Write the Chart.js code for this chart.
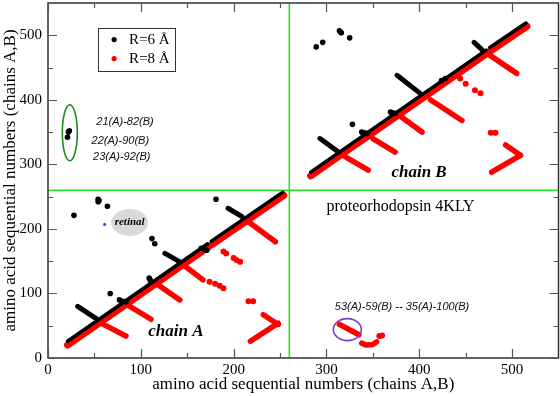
<!DOCTYPE html>
<html>
<head>
<meta charset="utf-8">
<script src="https://cdn.jsdelivr.net/npm/chart.js@4.4.0/dist/chart.umd.min.js"></script>
<style>
  html, body { margin: 0; padding: 0; background: #fff; overflow: hidden; }
  #wrap { width: 560px; height: 396px; }
</style>
</head>
<body>
<div id="wrap"><canvas id="contactMap"></canvas></div>
<script>
// axes
const axisMax = 550;
const majorTicks = [0, 100, 200, 300, 400, 500];
const minorTicks = [50, 150, 250, 350, 450];
const chainSplit = 260; // chain B starts here on the joint numbering

// diagonal bands, polylines of [x, y]
const diagBlack = [
  [[21, 26], [172, 177]],
  [[176, 181], [253, 257]],
  [[283, 288], [472, 477]],
  [[476, 481], [515, 519]]
];
const diagRed = [
  [[21, 20], [173, 172]],
  [[177, 176], [254, 252]],
  [[283, 282], [473, 472]],
  [[477, 476], [516, 514]]
];

// off-diagonal stripes
const branchRed = [
  [[57, 54], [84, 34]],
  [[86, 82], [111, 60]],
  [[118, 114], [142, 90]],
  [[146, 144], [167, 121]],
  [[214, 213], [245, 180]],
  [[232, 67], [248, 52]],
  [[218, 26], [248, 54]],
  [[320, 312], [345, 291]],
  [[350, 340], [374, 319]],
  [[380, 374], [403, 350]],
  [[412, 400], [446, 368]],
  [[473, 472], [505, 441]],
  [[493, 330], [509, 314]],
  [[478, 288], [509, 314]],
  [[314, 52], [335, 36]],
  [[338, 23], [343, 20], [350, 21], [354, 25]]
];
const branchBlack = [
  [[32, 80], [52, 61]],
  [[126, 162], [142, 149]],
  [[194, 232], [209, 219]],
  [[293, 340], [313, 319]],
  [[376, 438], [401, 410]],
  [[459, 489], [468, 477]]
];

// single contacts
const dotsRed = [
  [174, 118], [180, 115], [185, 112], [189, 108],
  [189, 165], [192, 162], [200, 155], [203, 152], [207, 149],
  [216, 88], [221, 88],
  [444, 433], [450, 425], [460, 415], [466, 410],
  [477, 349], [482, 349],
  [357, 34], [360, 35]
];
const dotsBlack = [
  [21, 342], [22, 350], [23, 352],
  [28, 221], [54, 246], [54, 242], [55, 244], [64, 235], [67, 100],
  [112, 185], [115, 177], [181, 246],
  [77, 90], [81, 88], [84, 87],
  [109, 124], [110, 121], [111, 118],
  [165, 170], [168, 169], [171, 167],
  [289, 482], [296, 489], [314, 507], [315, 505], [316, 504], [325, 496],
  [328, 362], [338, 350], [341, 349], [344, 348],
  [369, 381], [371, 380], [374, 379],
  [424, 430], [428, 433]
];
const retinal = [[61, 207]];

const toXY = arr => arr.map(p => ({ x: p[0], y: p[1] }));

const datasets = [];
const addLines = (list, color, width, order) => {
  list.forEach(seg => datasets.push({
    data: toXY(seg), showLine: true, borderColor: color, borderWidth: width,
    borderCapStyle: 'round', borderJoinStyle: 'round', pointRadius: 0, order: order
  }));
};
// chain boundaries
datasets.push({ data: toXY([[chainSplit, 0], [chainSplit, axisMax]]), showLine: true,
  borderColor: '#22e622', borderWidth: 1.6, pointRadius: 0, order: 20 });
datasets.push({ data: toXY([[0, chainSplit], [axisMax, chainSplit]]), showLine: true,
  borderColor: '#22e622', borderWidth: 1.6, pointRadius: 0, order: 20 });
addLines(diagRed, '#ff0000', 7, 6);
addLines(branchRed, '#ff0000', 5.5, 6);
addLines(diagBlack, '#000000', 3.5, 5);
addLines(branchBlack, '#000000', 5, 5);
datasets.push({ data: toXY(dotsRed), pointRadius: 3, pointBackgroundColor: '#ff0000', pointBorderWidth: 0, order: 6 });
datasets.push({ data: toXY(dotsBlack), pointRadius: 2.8, pointBackgroundColor: '#000000', pointBorderWidth: 0, order: 5 });
datasets.push({ data: toXY(retinal), pointRadius: 1.6, pointBackgroundColor: '#8a2be2', pointBorderWidth: 0, order: 4 });

const serif = '"Liberation Serif", "DejaVu Serif", serif';
const sans = '"Liberation Sans", Arial, sans-serif';

// frame, inside ticks, legend and notes
const decorations = {
  id: 'decorations',
  beforeDatasetsDraw(chart) {
    const { ctx, scales: { x, y } } = chart;
    // retinal bubble
    ctx.save();
    ctx.fillStyle = '#d9d9d9';
    ctx.beginPath();
    ctx.ellipse(x.getPixelForValue(88), y.getPixelForValue(210), 18.5, 13.5, 0, 0, Math.PI * 2);
    ctx.fill();
    ctx.fillStyle = '#000';
    ctx.font = 'italic bold 11px ' + serif;
    ctx.textAlign = 'center';
    ctx.textBaseline = 'middle';
    ctx.fillText('retinal', x.getPixelForValue(88), y.getPixelForValue(210));
    ctx.restore();
  },
  afterDatasetsDraw(chart) {
    const { ctx, chartArea: a, scales: { x, y } } = chart;
    ctx.save();
    // frame
    ctx.strokeStyle = '#333';
    ctx.lineWidth = 1.5;
    ctx.strokeRect(a.left, a.top, a.right - a.left, a.bottom - a.top);
    // ticks on all four sides, pointing in
    ctx.strokeStyle = '#555';
    ctx.lineWidth = 1.2;
    const tick = (v, len) => {
      const px = Math.round(x.getPixelForValue(v)) + 0.5;
      const py = Math.round(y.getPixelForValue(v)) + 0.5;
      ctx.beginPath();
      ctx.moveTo(px, a.bottom); ctx.lineTo(px, a.bottom - len);
      ctx.moveTo(px, a.top); ctx.lineTo(px, a.top + len);
      ctx.moveTo(a.left, py); ctx.lineTo(a.left + len, py);
      ctx.moveTo(a.right, py); ctx.lineTo(a.right - len, py);
      ctx.stroke();
    };
    majorTicks.forEach(v => tick(v, 9));
    minorTicks.forEach(v => tick(v, 5));

    // legend
    const lx = x.getPixelForValue(54), ly = y.getPixelForValue(512);
    ctx.strokeStyle = '#333';
    ctx.lineWidth = 1;
    ctx.fillStyle = '#fff';
    ctx.fillRect(lx, ly, 77, 43);
    ctx.strokeRect(Math.round(lx) + 0.5, Math.round(ly) + 0.5, 77, 43);
    ctx.font = '15px ' + serif;
    ctx.textBaseline = 'middle';
    ctx.textAlign = 'left';
    [['#000', 'R=6 Å', 12], ['#ff0000', 'R=8 Å', 31]].forEach(r => {
      ctx.fillStyle = r[0];
      ctx.beginPath();
      ctx.arc(lx + 16, ly + r[2], 2.6, 0, Math.PI * 2);
      ctx.fill();
      ctx.fillStyle = '#000';
      ctx.fillText(r[1], lx + 31, ly + r[2] + 1);
    });

    // highlighted contacts
    ctx.lineWidth = 1.6;
    ctx.strokeStyle = '#1e8c1e';
    ctx.beginPath();
    ctx.ellipse(x.getPixelForValue(23.5), y.getPixelForValue(349), 7.5, 28, 0, 0, Math.PI * 2);
    ctx.stroke();
    ctx.strokeStyle = '#7a3fd0';
    ctx.beginPath();
    ctx.ellipse(x.getPixelForValue(322.5), y.getPixelForValue(44), 14, 11, 0, 0, Math.PI * 2);
    ctx.stroke();

    ctx.fillStyle = '#111';
    ctx.font = 'italic 11px ' + sans;
    [['21(A)-82(B)', 52, 365], ['22(A)-90(B)', 47, 336], ['23(A)-92(B)', 48.5, 311],
     ['53(A)-59(B) -- 35(A)-100(B)', 309, 79]].forEach(t => {
      ctx.fillText(t[0], x.getPixelForValue(t[1]), y.getPixelForValue(t[2]));
    });

    ctx.fillStyle = '#000';
    ctx.font = 'italic bold 17px ' + serif;
    ctx.fillText('chain A', x.getPixelForValue(108), y.getPixelForValue(41));
    ctx.fillText('chain B', x.getPixelForValue(370), y.getPixelForValue(287.5));
    ctx.font = '16px ' + serif;
    ctx.fillText('proteorhodopsin 4KLY', x.getPixelForValue(300), y.getPixelForValue(234));
    ctx.restore();
  }
};

const axisTitle = 'amino acid sequential numbers (chains A,B)';

const noPad = s => { s.paddingTop = 0; s.paddingBottom = 0; s.paddingLeft = 0; s.paddingRight = 0; };

const contactConfig = {
  type: 'scatter',
  data: { datasets },
  options: {
    responsive: true,
    maintainAspectRatio: false,
    animation: false,
    layout: { autoPadding: false, padding: { top: 3, right: 1.5, left: 0, bottom: 0 } },
    plugins: { legend: { display: false }, tooltip: { enabled: false } },
    scales: {
      x: {
        type: 'linear', min: 0, max: axisMax,
        afterFit: s => { s.height = 38; noPad(s); },
        border: { display: false },
        grid: { display: false, drawTicks: false },
        ticks: { stepSize: 100, includeBounds: false, padding: 3, color: '#000',
          font: { family: serif, size: 15 } },
        title: { display: true, text: axisTitle, color: '#000', padding: { top: 0, bottom: 1 },
          font: { family: serif, size: 17 } }
      },
      y: {
        type: 'linear', min: 0, max: axisMax,
        afterFit: s => { s.width = 48; noPad(s); },
        border: { display: false },
        grid: { display: false, drawTicks: false },
        ticks: { stepSize: 100, includeBounds: false, padding: 6, color: '#000',
          font: { family: serif, size: 15 } },
        title: { display: true, text: axisTitle, color: '#000', padding: { top: 0, bottom: 0 },
          font: { family: serif, size: 17 } }
      }
    }
  },
  plugins: [decorations]
};

const contactChart = new Chart(document.getElementById('contactMap'), contactConfig);
</script>
</body>
</html>
